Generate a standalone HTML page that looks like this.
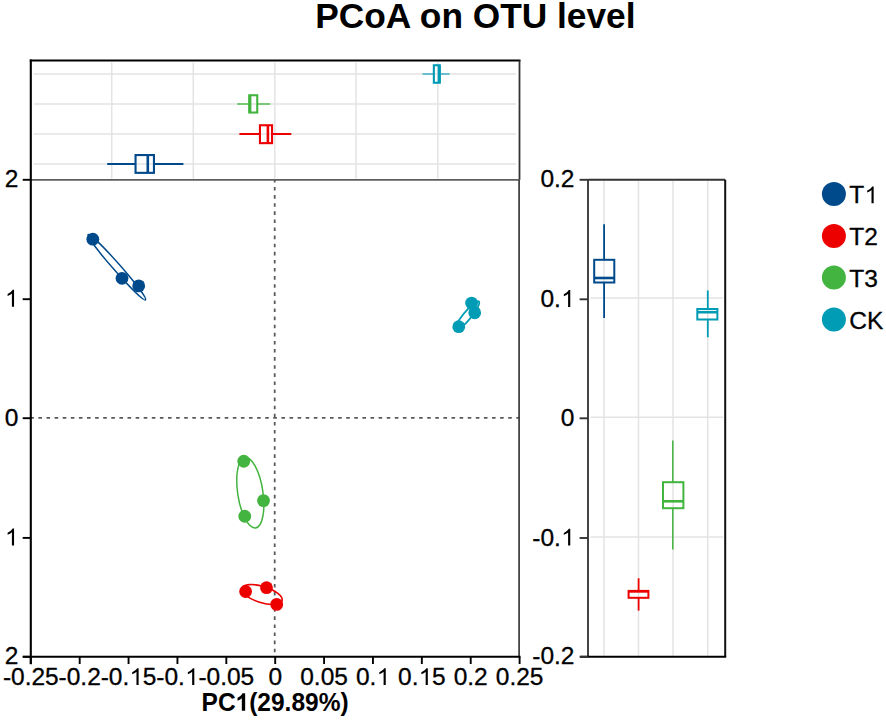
<!DOCTYPE html>
<html><head><meta charset="utf-8"><style>
html,body{margin:0;padding:0;background:#fff;width:886px;height:720px;overflow:hidden}
svg{display:block}
text{font-family:"Liberation Sans",sans-serif} .r{stroke:#000;stroke-width:0.3px}
</style></head><body>
<svg width="886" height="720" viewBox="0 0 886 720">
<rect width="886" height="720" fill="#fff"/>
<text x="475.4" y="27.7" font-size="35.3" font-weight="bold" text-anchor="middle" font-family="Liberation Sans, sans-serif" fill="#000">PCoA on OTU level</text>
<line x1="33.8" y1="74.0" x2="516.0" y2="74.0" stroke="#e3e3e3" stroke-width="1.5"/>
<line x1="33.8" y1="104.0" x2="516.0" y2="104.0" stroke="#e3e3e3" stroke-width="1.5"/>
<line x1="33.8" y1="134.0" x2="516.0" y2="134.0" stroke="#e3e3e3" stroke-width="1.5"/>
<line x1="33.8" y1="164.0" x2="516.0" y2="164.0" stroke="#e3e3e3" stroke-width="1.5"/>
<line x1="111.7" y1="62.5" x2="111.7" y2="178.8" stroke="#e3e3e3" stroke-width="1.5"/>
<line x1="193.3" y1="62.5" x2="193.3" y2="178.8" stroke="#e3e3e3" stroke-width="1.5"/>
<line x1="274.8" y1="62.5" x2="274.8" y2="178.8" stroke="#e3e3e3" stroke-width="1.5"/>
<line x1="356" y1="62.5" x2="356" y2="178.8" stroke="#e3e3e3" stroke-width="1.5"/>
<line x1="437.8" y1="62.5" x2="437.8" y2="178.8" stroke="#e3e3e3" stroke-width="1.5"/>
<line x1="422.5" y1="74" x2="433.8" y2="74" stroke="#5ab8cc" stroke-width="1.8"/>
<line x1="439.8" y1="74" x2="449.6" y2="74" stroke="#5ab8cc" stroke-width="1.8"/>
<rect x="433.85" y="65.25" width="5.90" height="17.50" fill="none" stroke="#009bb5" stroke-width="2.1"/>
<line x1="439.2" y1="65.25" x2="439.2" y2="82.75" stroke="#009bb5" stroke-width="3"/>
<line x1="237.2" y1="104" x2="249.3" y2="104" stroke="#6cc46a" stroke-width="1.8"/>
<line x1="257.3" y1="104" x2="270.1" y2="104" stroke="#6cc46a" stroke-width="1.8"/>
<rect x="249.35000000000002" y="95.25" width="7.90" height="17.30" fill="none" stroke="#43b43f" stroke-width="2.1"/>
<line x1="249.9" y1="95.25" x2="249.9" y2="112.55" stroke="#43b43f" stroke-width="3"/>
<line x1="239.4" y1="134" x2="259.9" y2="134" stroke="#ec0000" stroke-width="2"/>
<line x1="272.1" y1="134" x2="291.3" y2="134" stroke="#ec0000" stroke-width="2"/>
<rect x="259.95" y="125.25" width="12.10" height="17.90" fill="none" stroke="#ec0000" stroke-width="2.1"/>
<line x1="267.9" y1="125.25" x2="267.9" y2="143.14999999999998" stroke="#ec0000" stroke-width="2.6"/>
<line x1="107.2" y1="164" x2="135.5" y2="164" stroke="#004a8c" stroke-width="2"/>
<line x1="154.0" y1="164" x2="183.4" y2="164" stroke="#004a8c" stroke-width="2"/>
<rect x="135.55" y="155.05" width="18.40" height="17.80" fill="none" stroke="#004a8c" stroke-width="2.1"/>
<line x1="147.8" y1="155.05" x2="147.8" y2="172.85" stroke="#004a8c" stroke-width="2.6"/>
<line x1="29.8" y1="60.5" x2="520.5" y2="60.5" stroke="#000" stroke-width="2"/>
<line x1="519.5" y1="60.5" x2="519.5" y2="179.8" stroke="#333" stroke-width="1.8"/>
<line x1="30.3" y1="417.8" x2="519.5" y2="417.8" stroke="#5a5a5a" stroke-width="1.8" stroke-dasharray="3.6 4.5"/>
<line x1="274.7" y1="178.9" x2="274.7" y2="655.8" stroke="#5a5a5a" stroke-width="1.8" stroke-dasharray="3.6 4.5"/>
<ellipse cx="116.8" cy="267.2" rx="43.5" ry="3.6" transform="rotate(48.7 116.8 267.2)" fill="none" stroke="#004a8c" stroke-width="1.4"/>
<circle cx="92.8" cy="239.2" r="6.4" fill="#004a8c"/>
<circle cx="122" cy="278.3" r="6.4" fill="#004a8c"/>
<circle cx="138.7" cy="285.9" r="6.4" fill="#004a8c"/>
<ellipse cx="467" cy="316" rx="18.8" ry="4.0" transform="rotate(-51 467 316)" fill="none" stroke="#009bb5" stroke-width="1.9"/>
<circle cx="471.6" cy="303.1" r="6.4" fill="#009bb5"/>
<circle cx="474.7" cy="312.8" r="6.4" fill="#009bb5"/>
<circle cx="458.75" cy="326.7" r="6.4" fill="#009bb5"/>
<ellipse cx="250.3" cy="492.7" rx="35.6" ry="12.6" transform="rotate(81.4 250.3 492.7)" fill="none" stroke="#43b43f" stroke-width="1.5"/>
<circle cx="243.75" cy="461.25" r="6.4" fill="#43b43f"/>
<circle cx="263.5" cy="500.6" r="6.4" fill="#43b43f"/>
<circle cx="244.75" cy="516.25" r="6.4" fill="#43b43f"/>
<ellipse cx="262" cy="594.5" rx="21" ry="8.1" transform="rotate(17.3 262 594.5)" fill="none" stroke="#ec0000" stroke-width="1.6"/>
<circle cx="245.6" cy="591.5" r="6.4" fill="#ec0000"/>
<circle cx="266.5" cy="587.7" r="6.4" fill="#ec0000"/>
<circle cx="276.7" cy="604.4" r="6.4" fill="#ec0000"/>
<line x1="30.8" y1="179.8" x2="519.5" y2="179.8" stroke="#5e5e5e" stroke-width="1.8"/>
<line x1="519.1" y1="179.8" x2="519.1" y2="656.8" stroke="#3a3a3a" stroke-width="1.7"/>
<line x1="30.8" y1="59.5" x2="30.8" y2="664.3" stroke="#000" stroke-width="2.1"/>
<line x1="22.8" y1="656.8" x2="520.5" y2="656.8" stroke="#000" stroke-width="2.1"/>
<line x1="22.7" y1="179.8" x2="30.8" y2="179.8" stroke="#000" stroke-width="1.9"/>
<text x="0" y="0" transform="translate(4.67 187.30) scale(1 1.0)" font-size="24.5" class="r" font-family="Liberation Sans, sans-serif">2</text>
<line x1="22.7" y1="299.2" x2="30.8" y2="299.2" stroke="#000" stroke-width="1.9"/>
<text x="0" y="0" transform="translate(4.67 306.70) scale(1 1.0)" font-size="24.5" class="r" font-family="Liberation Sans, sans-serif"> </text>
<path d="M785 0L605 0L605 1103C562 1063 505 1024 435 984C365 945 302 915 245 895L245 1062C345 1108 432 1162 507 1226C582 1289 635 1350 666 1409L785 1409Z" transform="translate(4.67 306.70) scale(0.011963 -0.011963)" fill="#000" class="r"/>
<line x1="22.7" y1="418.2" x2="30.8" y2="418.2" stroke="#000" stroke-width="1.9"/>
<text x="0" y="0" transform="translate(4.67 425.70) scale(1 1.0)" font-size="24.5" class="r" font-family="Liberation Sans, sans-serif">0</text>
<line x1="22.7" y1="537.9" x2="30.8" y2="537.9" stroke="#000" stroke-width="1.9"/>
<text x="0" y="0" transform="translate(4.67 545.40) scale(1 1.0)" font-size="24.5" class="r" font-family="Liberation Sans, sans-serif"> </text>
<path d="M785 0L605 0L605 1103C562 1063 505 1024 435 984C365 945 302 915 245 895L245 1062C345 1108 432 1162 507 1226C582 1289 635 1350 666 1409L785 1409Z" transform="translate(4.67 545.40) scale(0.011963 -0.011963)" fill="#000" class="r"/>
<line x1="22.7" y1="656.8" x2="30.8" y2="656.8" stroke="#000" stroke-width="1.9"/>
<text x="0" y="0" transform="translate(4.67 664.30) scale(1 1.0)" font-size="24.5" class="r" font-family="Liberation Sans, sans-serif">2</text>
<line x1="30.80" y1="656.8" x2="30.80" y2="664" stroke="#000" stroke-width="1.9"/>
<text x="0" y="0" transform="translate(2.88 685.00) scale(1 1.0)" font-size="24.5" class="r" font-family="Liberation Sans, sans-serif">-0.25</text>
<line x1="79.68" y1="656.8" x2="79.68" y2="664" stroke="#000" stroke-width="1.9"/>
<text x="0" y="0" transform="translate(58.57 685.00) scale(1 1.0)" font-size="24.5" class="r" font-family="Liberation Sans, sans-serif">-0.2</text>
<line x1="128.56" y1="656.8" x2="128.56" y2="664" stroke="#000" stroke-width="1.9"/>
<text x="0" y="0" transform="translate(100.64 685.00) scale(1 1.0)" font-size="24.5" class="r" font-family="Liberation Sans, sans-serif">-0. 5</text>
<path d="M785 0L605 0L605 1103C562 1063 505 1024 435 984C365 945 302 915 245 895L245 1062C345 1108 432 1162 507 1226C582 1289 635 1350 666 1409L785 1409Z" transform="translate(129.23 685.00) scale(0.011963 -0.011963)" fill="#000" class="r"/>
<line x1="177.44" y1="656.8" x2="177.44" y2="664" stroke="#000" stroke-width="1.9"/>
<text x="0" y="0" transform="translate(156.33 685.00) scale(1 1.0)" font-size="24.5" class="r" font-family="Liberation Sans, sans-serif">-0. </text>
<path d="M785 0L605 0L605 1103C562 1063 505 1024 435 984C365 945 302 915 245 895L245 1062C345 1108 432 1162 507 1226C582 1289 635 1350 666 1409L785 1409Z" transform="translate(184.92 685.00) scale(0.011963 -0.011963)" fill="#000" class="r"/>
<line x1="226.32" y1="656.8" x2="226.32" y2="664" stroke="#000" stroke-width="1.9"/>
<text x="0" y="0" transform="translate(198.40 685.00) scale(1 1.0)" font-size="24.5" class="r" font-family="Liberation Sans, sans-serif">-0.05</text>
<line x1="275.20" y1="656.8" x2="275.20" y2="664" stroke="#000" stroke-width="1.9"/>
<text x="0" y="0" transform="translate(268.39 685.00) scale(1 1.0)" font-size="24.5" class="r" font-family="Liberation Sans, sans-serif">0</text>
<line x1="324.08" y1="656.8" x2="324.08" y2="664" stroke="#000" stroke-width="1.9"/>
<text x="0" y="0" transform="translate(300.24 685.00) scale(1 1.0)" font-size="24.5" class="r" font-family="Liberation Sans, sans-serif">0.05</text>
<line x1="372.96" y1="656.8" x2="372.96" y2="664" stroke="#000" stroke-width="1.9"/>
<text x="0" y="0" transform="translate(355.93 685.00) scale(1 1.0)" font-size="24.5" class="r" font-family="Liberation Sans, sans-serif">0. </text>
<path d="M785 0L605 0L605 1103C562 1063 505 1024 435 984C365 945 302 915 245 895L245 1062C345 1108 432 1162 507 1226C582 1289 635 1350 666 1409L785 1409Z" transform="translate(376.36 685.00) scale(0.011963 -0.011963)" fill="#000" class="r"/>
<line x1="421.84" y1="656.8" x2="421.84" y2="664" stroke="#000" stroke-width="1.9"/>
<text x="0" y="0" transform="translate(398.00 685.00) scale(1 1.0)" font-size="24.5" class="r" font-family="Liberation Sans, sans-serif">0. 5</text>
<path d="M785 0L605 0L605 1103C562 1063 505 1024 435 984C365 945 302 915 245 895L245 1062C345 1108 432 1162 507 1226C582 1289 635 1350 666 1409L785 1409Z" transform="translate(418.43 685.00) scale(0.011963 -0.011963)" fill="#000" class="r"/>
<line x1="470.72" y1="656.8" x2="470.72" y2="664" stroke="#000" stroke-width="1.9"/>
<text x="0" y="0" transform="translate(453.69 685.00) scale(1 1.0)" font-size="24.5" class="r" font-family="Liberation Sans, sans-serif">0.2</text>
<line x1="519.60" y1="656.8" x2="519.60" y2="664" stroke="#000" stroke-width="1.9"/>
<text x="0" y="0" transform="translate(495.76 685.00) scale(1 1.0)" font-size="24.5" class="r" font-family="Liberation Sans, sans-serif">0.25</text>
<text x="0" y="0" transform="translate(201.56 710.70) scale(1 1.03)" font-size="24.5" font-weight="bold" font-family="Liberation Sans, sans-serif">PC (29.89%)</text>
<path d="M800 0L520 0L520 1013C418 922 298 854 160 810L160 1054C233 1077 312 1120 397 1183C482 1247 541 1322 573 1409L800 1409Z" transform="translate(235.60 710.70) scale(0.011963 -0.012322)" fill="#000"/>
<line x1="590.5" y1="298.1" x2="723.2" y2="298.1" stroke="#e3e3e3" stroke-width="1.5"/>
<line x1="590.5" y1="417.3" x2="723.2" y2="417.3" stroke="#e3e3e3" stroke-width="1.5"/>
<line x1="590.5" y1="537.0" x2="723.2" y2="537.0" stroke="#e3e3e3" stroke-width="1.5"/>
<line x1="604" y1="180.8" x2="604" y2="655.8" stroke="#e3e3e3" stroke-width="1.5"/>
<line x1="638.5" y1="180.8" x2="638.5" y2="655.8" stroke="#e3e3e3" stroke-width="1.5"/>
<line x1="673" y1="180.8" x2="673" y2="655.8" stroke="#e3e3e3" stroke-width="1.5"/>
<line x1="707.7" y1="180.8" x2="707.7" y2="655.8" stroke="#e3e3e3" stroke-width="1.5"/>
<line x1="604.1" y1="224.2" x2="604.1" y2="259.8" stroke="#004a8c" stroke-width="1.8"/>
<line x1="604.1" y1="282.5" x2="604.1" y2="318.1" stroke="#004a8c" stroke-width="1.8"/>
<rect x="594.2" y="259.8" width="20.10" height="22.70" fill="none" stroke="#004a8c" stroke-width="2"/>
<line x1="594.2" y1="278.0" x2="614.3" y2="278.0" stroke="#004a8c" stroke-width="2.6"/>
<line x1="638.6" y1="578.3" x2="638.6" y2="590.9" stroke="#ec0000" stroke-width="1.8"/>
<line x1="638.6" y1="597.8" x2="638.6" y2="610.6" stroke="#ec0000" stroke-width="1.8"/>
<rect x="628.6" y="590.9" width="19.80" height="6.90" fill="none" stroke="#ec0000" stroke-width="2"/>
<line x1="628.6" y1="591.4" x2="648.4" y2="591.4" stroke="#ec0000" stroke-width="2.6"/>
<line x1="672.8" y1="440.4" x2="672.8" y2="482.2" stroke="#43b43f" stroke-width="1.5"/>
<line x1="672.8" y1="508.2" x2="672.8" y2="549.5" stroke="#43b43f" stroke-width="1.5"/>
<rect x="663.0" y="482.2" width="20.40" height="26.00" fill="none" stroke="#43b43f" stroke-width="2"/>
<line x1="663.0" y1="501.3" x2="683.4" y2="501.3" stroke="#43b43f" stroke-width="2.6"/>
<line x1="707.8" y1="290.4" x2="707.8" y2="309.0" stroke="#009bb5" stroke-width="1.8"/>
<line x1="707.8" y1="319.5" x2="707.8" y2="337.3" stroke="#009bb5" stroke-width="1.8"/>
<rect x="697.3" y="309.0" width="20.10" height="10.50" fill="none" stroke="#009bb5" stroke-width="2"/>
<line x1="697.3" y1="312.2" x2="717.4" y2="312.2" stroke="#009bb5" stroke-width="2.6"/>
<line x1="588" y1="179.8" x2="725.2" y2="179.8" stroke="#333" stroke-width="2"/>
<line x1="725.2" y1="179.8" x2="725.2" y2="656.8" stroke="#111" stroke-width="2"/>
<line x1="588" y1="179.8" x2="588" y2="656.8" stroke="#444" stroke-width="2"/>
<line x1="580" y1="656.8" x2="726.2" y2="656.8" stroke="#000" stroke-width="2.1"/>
<line x1="579.6" y1="179.8" x2="588" y2="179.8" stroke="#333" stroke-width="1.9"/>
<text x="0" y="0" transform="translate(540.44 187.40) scale(1 1.0)" font-size="24.5" class="r" font-family="Liberation Sans, sans-serif">0.2</text>
<line x1="579.6" y1="299.3" x2="588" y2="299.3" stroke="#333" stroke-width="1.9"/>
<text x="0" y="0" transform="translate(540.44 306.90) scale(1 1.0)" font-size="24.5" class="r" font-family="Liberation Sans, sans-serif">0. </text>
<path d="M785 0L605 0L605 1103C562 1063 505 1024 435 984C365 945 302 915 245 895L245 1062C345 1108 432 1162 507 1226C582 1289 635 1350 666 1409L785 1409Z" transform="translate(560.87 306.90) scale(0.011963 -0.011963)" fill="#000" class="r"/>
<line x1="579.6" y1="418.3" x2="588" y2="418.3" stroke="#333" stroke-width="1.9"/>
<text x="0" y="0" transform="translate(560.87 425.90) scale(1 1.0)" font-size="24.5" class="r" font-family="Liberation Sans, sans-serif">0</text>
<line x1="579.6" y1="538.0" x2="588" y2="538.0" stroke="#333" stroke-width="1.9"/>
<text x="0" y="0" transform="translate(532.28 545.60) scale(1 1.0)" font-size="24.5" class="r" font-family="Liberation Sans, sans-serif">-0. </text>
<path d="M785 0L605 0L605 1103C562 1063 505 1024 435 984C365 945 302 915 245 895L245 1062C345 1108 432 1162 507 1226C582 1289 635 1350 666 1409L785 1409Z" transform="translate(560.87 545.60) scale(0.011963 -0.011963)" fill="#000" class="r"/>
<line x1="579.6" y1="656.8" x2="588" y2="656.8" stroke="#333" stroke-width="1.9"/>
<text x="0" y="0" transform="translate(532.28 664.40) scale(1 1.0)" font-size="24.5" class="r" font-family="Liberation Sans, sans-serif">-0.2</text>
<circle cx="833.9" cy="194" r="12" fill="#004a8c"/>
<text x="0" y="0" transform="translate(849.30 203.30) scale(1 1.0)" font-size="24.5" class="r" font-family="Liberation Sans, sans-serif">T </text>
<path d="M785 0L605 0L605 1103C562 1063 505 1024 435 984C365 945 302 915 245 895L245 1062C345 1108 432 1162 507 1226C582 1289 635 1350 666 1409L785 1409Z" transform="translate(864.27 203.30) scale(0.011963 -0.011963)" fill="#000" class="r"/>
<circle cx="833.9" cy="236" r="12" fill="#ec0000"/>
<text x="0" y="0" transform="translate(849.30 245.30) scale(1 1.0)" font-size="24.5" class="r" font-family="Liberation Sans, sans-serif">T2</text>
<circle cx="833.9" cy="277.6" r="12" fill="#43b43f"/>
<text x="0" y="0" transform="translate(849.30 286.90) scale(1 1.0)" font-size="24.5" class="r" font-family="Liberation Sans, sans-serif">T3</text>
<circle cx="833.9" cy="319.5" r="12" fill="#009bb5"/>
<text x="0" y="0" transform="translate(849.30 328.80) scale(1 1.0)" font-size="24.5" class="r" font-family="Liberation Sans, sans-serif">CK</text>
</svg>
</body></html>
